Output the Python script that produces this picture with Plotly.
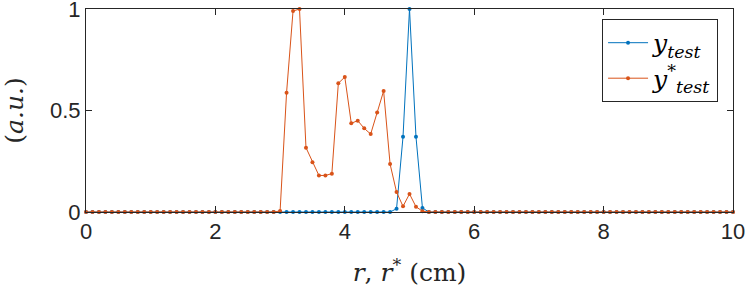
import plotly.graph_objects as go

r = [round(i * 0.1, 1) for i in range(101)]

# blue series y_test: nonzero values around r = 4.8 .. 5.2
y_test_nonzero_r = [4.8, 4.9, 5.0, 5.1, 5.2]
y_test_nonzero_v = [0.016, 0.371, 1.0, 0.371, 0.02]

# orange series y*_test: nonzero values from r = 3.0 .. 5.2
y_star_nonzero_r = [3.0, 3.1, 3.2, 3.3, 3.4, 3.5, 3.6, 3.7, 3.8, 3.9, 4.0,
                    4.1, 4.2, 4.3, 4.4, 4.5, 4.6, 4.7, 4.8, 4.9, 5.0, 5.1, 5.2]
y_star_nonzero_v = [0.005, 0.588, 0.99, 1.0, 0.317, 0.245, 0.18, 0.18, 0.189, 0.634, 0.665,
                    0.437, 0.45, 0.412, 0.384, 0.49, 0.596, 0.236, 0.098, 0.028, 0.089, 0.026, 0.004]

y_test_map = dict(zip(y_test_nonzero_r, y_test_nonzero_v))
y_star_map = dict(zip(y_star_nonzero_r, y_star_nonzero_v))
y_test = [y_test_map.get(x, 0.0) for x in r]
y_star = [y_star_map.get(x, 0.0) for x in r]

BLUE = "#0072BD"
ORANGE = "#D95319"
AX = "#262626"

fig = go.Figure()
fig.add_trace(go.Scatter(
    x=r, y=y_test, mode="lines+markers", cliponaxis=False,
    line=dict(color=BLUE, width=1), marker=dict(color=BLUE, size=4),
    name="<i>y</i><sub><i>test</i></sub>",
))
fig.add_trace(go.Scatter(
    x=r, y=y_star, mode="lines+markers", cliponaxis=False,
    line=dict(color=ORANGE, width=1), marker=dict(color=ORANGE, size=4),
    name="<i>y</i><sup>*</sup><sub><i>test</i></sub>",
))

fig.update_layout(
    width=747, height=288,
    margin=dict(l=86, r=14, t=9, b=76),
    plot_bgcolor="white", paper_bgcolor="white",
    font=dict(family="Liberation Sans", size=20, color=AX),
    showlegend=True,
    legend=dict(
        x=0.7976, y=0.951, xanchor="left", yanchor="top",
        bgcolor="white", bordercolor=AX, borderwidth=1,
        font=dict(family="DejaVu Serif", size=25, color="black"),
        tracegroupgap=0, itemwidth=40,
    ),
)
fig.update_xaxes(
    range=[0, 10], tickvals=[0, 2, 4, 6, 8, 10],
    ticks="inside", ticklen=6, tickwidth=1, tickcolor=AX,
    showline=True, linecolor=AX, linewidth=1, mirror="allticks",
    showgrid=False, zeroline=False, automargin=False, ticklabeloverflow="allow",
    tickfont=dict(family="Liberation Sans", size=22, color=AX),
    title=dict(text="<i>r</i>, <i>r</i><sup>*</sup> (cm)",
               font=dict(family="DejaVu Serif", size=25, color=AX), standoff=20),
)
fig.update_yaxes(
    range=[0, 1], tickvals=[0, 0.5, 1], ticktext=["0", "0.5", "1"],
    ticks="inside", ticklen=6, tickwidth=1, tickcolor=AX,
    showline=True, linecolor=AX, linewidth=1, mirror="allticks",
    showgrid=False, zeroline=False, automargin=False, ticklabeloverflow="allow",
    tickfont=dict(family="Liberation Sans", size=22, color=AX),
    title=dict(text="(<i>a.u.</i>)",
               font=dict(family="DejaVu Serif", size=25, color=AX), standoff=20),
)

fig.write_html(
    "out.html",
    config={"displayModeBar": False},
    post_script="document.body.style.margin='0';document.body.style.overflow='hidden';",
)
